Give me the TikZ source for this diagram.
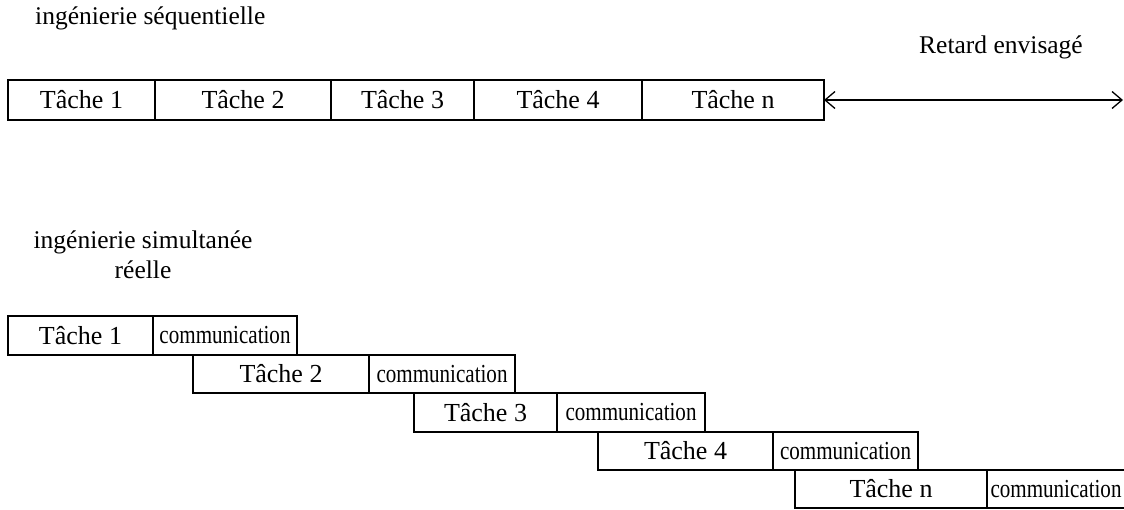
\documentclass[tikz,border=0pt]{standalone}
\usepackage{fontspec}
\setmainfont{Liberation Serif}
\usetikzlibrary{arrows.meta}
\begin{document}
\begin{tikzpicture}[x=1pt,y=-1pt,
  box/.style={draw,line width=1.3pt,anchor=north west,inner sep=0pt,outer sep=0pt,
    font=\fontsize{26}{30}\selectfont},
  lbl/.style={font=\fontsize{25.5}{30}\selectfont,inner sep=0pt},
  comm/.style={box},
  link/.style={line width=1.3pt,{Straight Barb[length=10pt,width=17pt,line width=1.3pt]}-{Straight Barb[length=10pt,width=17pt,line width=1.3pt]}}
]
\useasboundingbox[fill=white] (0,0) rectangle (1124,509);
\newcommand{\cm}{\scalebox{0.81}[1]{communication}}

% titles
\node[lbl,anchor=west] (t1) at (35,18) {ingénierie séquentielle};
\node[lbl] (t2) at (1001,47) {Retard envisagé};
\node[lbl,align=center] (t3) at (143,255) {ingénierie simultanée\\réelle};

% sequential row
\node[box,minimum width=147pt,minimum height=40pt] (s1) at (8,80) {Tâche 1};
\node[box,minimum width=176pt,minimum height=40pt] (s2) at (155,80) {Tâche 2};
\node[box,minimum width=143pt,minimum height=40pt] (s3) at (331,80) {Tâche 3};
\node[box,minimum width=168pt,minimum height=40pt] (s4) at (474,80) {Tâche 4};
\node[box,minimum width=182pt,minimum height=40pt] (s5) at (642,80) {Tâche n};
\coordinate (aend) at (1123,100);
\draw[link] (s5.east) -- (aend);

% simultaneous rows
\node[box,minimum width=145pt,minimum height=39pt] (p1) at (8,316) {Tâche 1};
\node[comm,minimum width=144pt,minimum height=39pt] (c1) at (153,316) {\cm};

\node[box,minimum width=176pt,minimum height=38pt] (p2) at (193,355) {Tâche 2};
\node[comm,minimum width=146pt,minimum height=38pt] (c2) at (369,355) {\cm};

\node[box,minimum width=143pt,minimum height=39pt] (p3) at (414,393) {Tâche 3};
\node[comm,minimum width=148pt,minimum height=39pt] (c3) at (557,393) {\cm};

\node[box,minimum width=175pt,minimum height=38pt] (p4) at (598,432) {Tâche 4};
\node[comm,minimum width=145pt,minimum height=38pt] (c4) at (773,432) {\cm};

\node[box,minimum width=192pt,minimum height=38pt] (p5) at (795,470) {Tâche n};
\node[comm,minimum width=138pt,minimum height=38pt] (c5) at (987,470) {\cm};
\end{tikzpicture}
\end{document}
